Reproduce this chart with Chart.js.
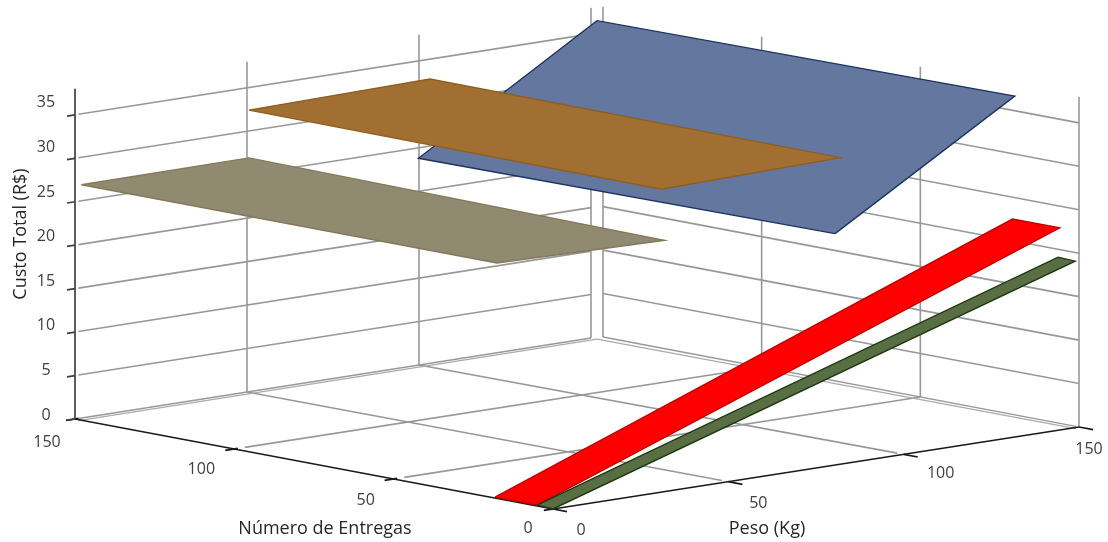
<!DOCTYPE html>
<html>
<head>
<meta charset="utf-8">
<title>Custo Total</title>
<script src="https://cdn.jsdelivr.net/npm/chart.js@4"></script>
<style>
    html, body { margin: 0; padding: 0; background: #fff; overflow: hidden; }
    canvas { display: block; }
</style>
</head>
<body>
<canvas id="chart" width="1108" height="542"></canvas>
<script>
// Axis ticks
const pesoTicks = [0, 50, 100, 150];
const entregasTicks = [0, 50, 100, 150];
const custoTicks = [0, 5, 10, 15, 20, 25, 30, 35];
const custoTop = 38;

// Surfaces, corner by corner
const azulPeso = [98.7, 150, 150, 98.7];
const azulEntregas = [20, 20, 150, 150];
const azulCusto = [24.1, 36.7, 36.4, 23.8];

const laranjaPeso = [50, 102, 102, 50];
const laranjaEntregas = [150, 150, 22, 21];
const laranjaCusto = [32.4, 32.7, 32.5, 32.2];

const begePeso = [0, 50, 50, 0];
const begeEntregas = [148, 150, 20, 17.6];
const begeCusto = [27.1, 26.9, 26.4, 27.1];

const vermelhoPeso = [0, 150, 150, 0];
const vermelhoEntregas = [18.2, 20.7, 6, 5];
const vermelhoCusto = [0.1, 22.5, 22.5, 0.1];

const verdePeso = [0, 150, 150, 0];
const verdeEntregas = [5, 6.5, 1.2, 0];
const verdeCusto = [0.1, 19.1, 19, 0];

// 3D view: where the origin sits and how each axis runs on screen
const origin = { x: 553, y: 509 };
const pesoDir = { x: 526 / 150, y: -82 / 150 };
const entregasDir = { x: -478 / 150, y: -90 / 150 };
const custoStep = 8.69;
const floorBend = { x: -4, y: 0 };
const leftWallBend = { x: -10, y: 1 };
const rightWallBend = { x: 2, y: 0 };

// Label nudges from the tick position, same order as the ticks
const entregasLabelOffset = [[-25, 19], [-28, 21], [-33, 20], [-28, 23]];
const pesoLabelOffset = [[28, 21], [30, 22], [37, 19], [10, 22]];

const project = (peso, entregas, custo, bend = floorBend) => {
    const t = (peso * entregas) / 22500;
    return {
        x: origin.x + peso * pesoDir.x + entregas * entregasDir.x + t * bend.x,
        y: origin.y + peso * pesoDir.y + entregas * entregasDir.y - custo * custoStep + t * bend.y
    };
};

const gridColor = "#989898";
const datasets = [];

const addLine = (points, color, width, order) => {
    datasets.push({
        data: points,
        showLine: true,
        fill: false,
        borderColor: color,
        borderWidth: width,
        pointRadius: 0,
        order: order
    });
};

const addSurface = (pesos, entregas, custos, fillColor, edgeColor, order) => {
    const points = pesos.map((p, i) => project(p, entregas[i], custos[i]));
    points.push(points[0]);
    datasets.push({
        data: points,
        showLine: true,
        fill: "shape",
        backgroundColor: fillColor,
        borderColor: edgeColor,
        borderWidth: 1.4,
        borderJoinStyle: "miter",
        pointRadius: 0,
        order: order
    });
};

// Wall grid
custoTicks.slice(1).forEach(c => {
    addLine([project(1, 150, c, leftWallBend), project(150, 150, c, leftWallBend)], gridColor, 1.6, 20);
    addLine([project(150, 150, c, rightWallBend), project(150, 0, c, rightWallBend)], gridColor, 1.6, 20);
});
[50, 100, 150].forEach(p => {
    addLine([project(p, 150, 0, leftWallBend), project(p, 150, custoTop, leftWallBend)], gridColor, 1.6, 20);
});
[150, 100, 50, 0].forEach(e => {
    addLine([project(150, e, 0, rightWallBend), project(150, e, custoTop, rightWallBend)], gridColor, 1.6, 20);
});

// Floor grid and its doubled back edges
addLine([project(1, 150, 0, leftWallBend), project(150, 150, 0, leftWallBend)], gridColor, 1.4, 20);
addLine([project(1, 150, -0.25), project(150, 150, -0.25)], "#aaaaaa", 1.2, 20);
addLine([project(150, 150, 0, rightWallBend), project(150, 1, 0, rightWallBend)], gridColor, 1.4, 20);
addLine([project(150, 150, -0.25), project(150, 1, -0.25)], "#aaaaaa", 1.2, 20);
[50, 100].forEach(p => {
    addLine([project(p, 2, 0), project(p, 150, 0, leftWallBend)], gridColor, 1.6, 20);
});
[50, 100].forEach(e => {
    addLine([project(3, e, 0), project(150, e, 0, rightWallBend)], gridColor, 1.6, 20);
});

// Axes and tick marks
addLine([project(0, 150, 0), project(0, 150, custoTop)], "#404040", 1.7, 10);
addLine([project(0, 150, 0), project(0, 0, 0)], "#1a1a1a", 1.7, 10);
addLine([project(0, 0, 0), project(150, 0, 0)], "#1a1a1a", 1.7, 10);
custoTicks.forEach(c => {
    addLine([project(-2.3, 150, c), project(0, 150, c)], "#404040", 1.7, 10);
});
entregasTicks.forEach(e => {
    addLine([project(-2.6, e, 0), project(1, e, 0)], "#1a1a1a", 1.7, 10);
});
pesoTicks.forEach(p => {
    addLine([project(p, -4.4, 0), project(p, 0, 0)], "#1a1a1a", 1.7, 10);
});

// Surfaces, far ones first
addSurface(azulPeso, azulEntregas, azulCusto, "#64779f", "#1c3560", 5);
addSurface(laranjaPeso, laranjaEntregas, laranjaCusto, "#a26f32", "#8f5f22", 4);
addSurface(begePeso, begeEntregas, begeCusto, "#8f8a70", "#85795c", 3);
addSurface(vermelhoPeso, vermelhoEntregas, vermelhoCusto, "#ff0000", "#c00000", 2);
addSurface(verdePeso, verdeEntregas, verdeCusto, "#5a6e44", "#1d3a12", 1);

// Text is placed around the projected tick positions
const axisText = {
    id: "axisText",
    afterDraw(chart) {
        const ctx = chart.ctx;
        ctx.save();
        ctx.textAlign = "center";
        ctx.textBaseline = "middle";
        ctx.font = '16px "Open Sans"';
        ctx.fillStyle = "#404040";
        custoTicks.forEach(c => {
            ctx.fillText(String(c), 46, project(0, 150, c).y - 4 - c * 0.23);
        });
        entregasTicks.forEach((e, i) => {
            const a = project(0, e, 0);
            ctx.fillText(String(e), a.x + entregasLabelOffset[i][0], a.y + entregasLabelOffset[i][1]);
        });
        pesoTicks.forEach((p, i) => {
            const a = project(p, 0, 0);
            ctx.fillText(String(p), a.x + pesoLabelOffset[i][0], a.y + pesoLabelOffset[i][1]);
        });
        ctx.font = '18px "Open Sans"';
        ctx.fillStyle = "#262626";
        ctx.fillText("Número de Entregas", 325, 529);
        ctx.fillText("Peso (Kg)", 767, 529);
        ctx.translate(21, 234);
        ctx.rotate(-Math.PI / 2);
        ctx.fillText("Custo Total (R$)", 0, 0);
        ctx.restore();
    }
};

new Chart(document.getElementById("chart").getContext("2d"), {
    type: "scatter",
    data: { datasets: datasets },
    options: {
        responsive: false,
        animation: false,
        layout: { padding: 0 },
        plugins: { legend: { display: false }, tooltip: { enabled: false } },
        scales: {
            x: { type: "linear", min: 0, max: 1108, display: false },
            y: { type: "linear", min: 0, max: 542, reverse: true, display: false }
        }
    },
    plugins: [axisText]
});
</script>
</body>
</html>
